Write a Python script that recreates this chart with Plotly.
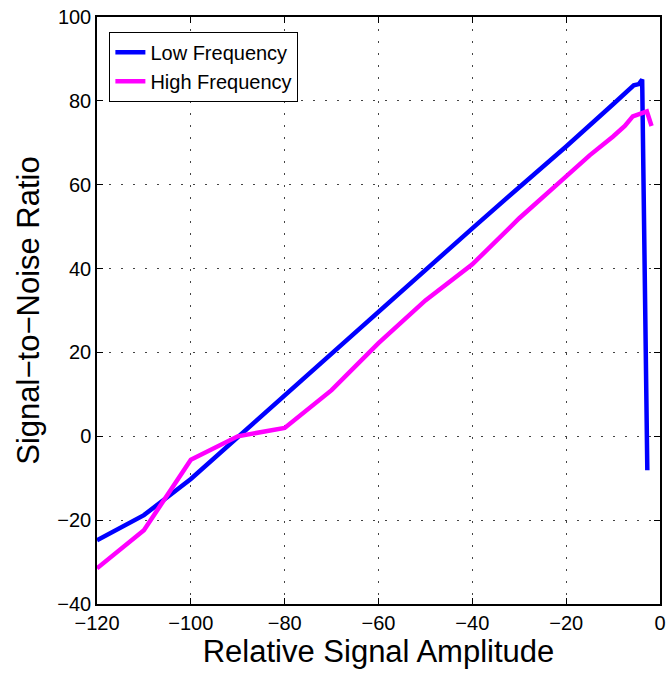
import plotly.graph_objects as go

low_x = [-120, -110, -100, -90, -80, -70, -60, -50, -40, -30, -20, -10, -9, -7, -5.6, -4.5, -3.8, -2.7]
low_y = [-24.8, -18.8, -10.2, -0.2, 9.8, 19.6, 29.5, 39.5, 49.6, 59.4, 69.1, 79.2, 80.3, 82.3, 83.7, 84.0, 85.1, -8.1]

high_x = [-120, -110, -100, -90, -80, -70, -60, -50, -40, -30, -20, -15, -10, -7.5, -5.8, -3.7, -2.8, -1.8]
high_y = [-31.5, -22.4, -5.6, 0.0, 2.0, 11.0, 22.2, 32.4, 41.0, 52.0, 62.0, 67.0, 71.5, 74.0, 76.3, 77.3, 77.5, 74.0]

x_ticks = [-120, -100, -80, -60, -40, -20, 0]
y_ticks = [-40, -20, 0, 20, 40, 60, 80, 100]

FONT = "Liberation Sans, Arial, sans-serif"

fig = go.Figure()
fig.add_trace(go.Scatter(x=low_x, y=low_y, mode="lines", name="Low Frequency",
                         line=dict(color="#0000ff", width=4.5)))
fig.add_trace(go.Scatter(x=high_x, y=high_y, mode="lines", name="High Frequency",
                         line=dict(color="#ff00ff", width=4.5)))

axis_common = dict(
    showline=True, linecolor="black", linewidth=1.5, mirror="ticks",
    ticks="inside", ticklen=6, tickcolor="black",
    showgrid=True, gridcolor="#444444", griddash="1.5px,10.5px", gridwidth=1.2,
    zeroline=False,
    tickfont=dict(family=FONT, size=20, color="black"),
)

fig.update_xaxes(range=[-120, 0], tickvals=x_ticks,
                 title=dict(text="Relative Signal Amplitude",
                            font=dict(family=FONT, size=31, color="black"),
                            standoff=6),
                 **axis_common)
fig.update_yaxes(range=[-40, 100], tickvals=y_ticks,
                 title=dict(text="Signal\u2212to\u2212Noise Ratio",
                            font=dict(family=FONT, size=31, color="black"),
                            standoff=8),
                 **axis_common)

fig.update_layout(
    width=670, height=677,
    margin=dict(l=97, r=4, t=17, b=73),
    paper_bgcolor="white", plot_bgcolor="white",
    legend=dict(x=0.022, y=0.975, xanchor="left", yanchor="top",
                bgcolor="white", bordercolor="black", borderwidth=1,
                font=dict(family=FONT, size=20, color="black"),
                tracegroupgap=0),
    showlegend=True,
)

fig.write_html("out.html")
